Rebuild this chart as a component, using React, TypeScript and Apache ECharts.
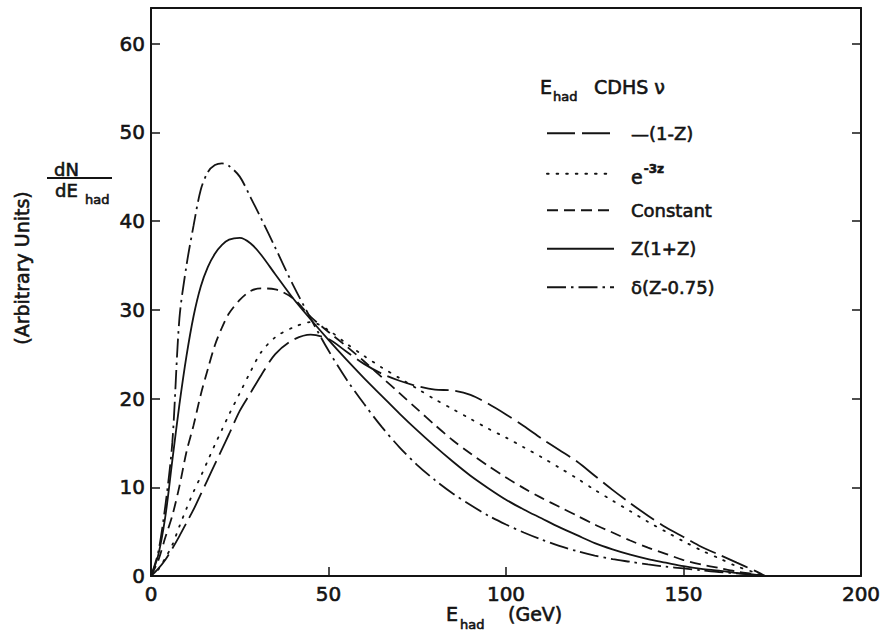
import React, { useEffect, useRef } from 'react';
import * as echarts from 'echarts';

// E_had (GeV) sample positions shared by all curves
const energies = [0, 2, 4, 6, 8, 10, 12, 14, 16, 18, 20, 22, 25, 28, 31, 35, 40, 45, 50, 55, 60, 65, 70, 75, 80, 85, 90, 95, 100, 105, 110, 115, 120, 125, 130, 135, 140, 145, 150, 155, 160, 165, 170, 173];

// dN/dE_had (arbitrary units) for each fragmentation assumption
const oneMinusZ = [0, 0.8, 1.8, 3.1, 4.5, 6.0, 7.5, 9.2, 10.9, 12.6, 14.3, 16.0, 18.6, 20.6, 22.6, 25.0, 26.6, 27.2, 26.7, 25.3, 23.9, 22.8, 22.0, 21.4, 21.0, 20.9, 20.4, 19.4, 18.2, 16.9, 15.5, 14.2, 12.9, 11.3, 9.7, 8.2, 6.8, 5.5, 4.4, 3.3, 2.4, 1.5, 0.6, 0];
const expMinus3z = [0, 0.7, 2.0, 3.5, 5.6, 7.6, 9.5, 11.2, 13.0, 14.8, 16.5, 18.2, 20.6, 23.0, 25.2, 26.9, 28.0, 28.6, 27.7, 26.2, 24.8, 23.5, 22.3, 21.1, 19.9, 18.8, 17.7, 16.6, 15.6, 14.5, 13.4, 12.2, 11.0, 9.7, 8.5, 7.3, 6.1, 5.0, 3.9, 2.9, 2.0, 1.1, 0.4, 0];
const constant = [0, 1.7, 4.3, 6.8, 10.1, 14.0, 17.0, 20.4, 23.3, 26.0, 28.0, 29.6, 31.1, 32.1, 32.4, 32.3, 31.3, 29.2, 27.5, 25.9, 24.2, 22.4, 20.6, 18.8, 17.0, 15.3, 13.8, 12.4, 11.1, 9.9, 8.8, 7.8, 6.8, 5.8, 4.9, 4.0, 3.2, 2.5, 1.8, 1.3, 0.9, 0.5, 0.2, 0];
const zOnePlusZ = [0, 2.3, 6.6, 13.0, 19.3, 24.8, 29.3, 32.6, 34.8, 36.3, 37.3, 37.9, 38.1, 37.5, 36.2, 34.0, 31.3, 28.9, 26.6, 24.4, 22.3, 20.3, 18.3, 16.4, 14.6, 12.9, 11.3, 9.9, 8.6, 7.5, 6.5, 5.5, 4.6, 3.7, 3.0, 2.4, 1.9, 1.5, 1.1, 0.8, 0.6, 0.35, 0.15, 0];
const deltaZ075 = [0, 2.6, 7.8, 15.0, 29.0, 35.0, 39.5, 43.5, 45.5, 46.3, 46.5, 46.2, 45.0, 42.7, 40.3, 37.0, 32.8, 29.0, 25.4, 22.2, 19.4, 16.8, 14.5, 12.5, 10.8, 9.3, 8.0, 6.8, 5.8, 4.9, 4.1, 3.4, 2.8, 2.3, 1.9, 1.6, 1.3, 1.05, 0.85, 0.65, 0.45, 0.3, 0.12, 0];

const seriesNames = ['—(1-Z)', 'e-3z', 'Constant', 'Z(1+Z)', 'δ(Z-0.75)'];
const xTicks = [0, 50, 100, 150, 200];
const yTicks = [0, 10, 20, 30, 40, 50, 60];

const FONT = '"DejaVu Sans", "Noto Sans", sans-serif';
const INK = '#141414';
const THICK = { textBorderColor: INK, textBorderWidth: 0.6 };

export default function App() {
  const ref = useRef<HTMLDivElement>(null);

  useEffect(() => {
    if (!ref.current) return;
    const chart = echarts.init(ref.current, null, { renderer: 'svg' });

    const values = [oneMinusZ, expMinus3z, constant, zOnePlusZ, deltaZ075];
    const dashes: (number[] | 'solid')[] = [[28, 7], [1.6, 8], [11, 6], 'solid', [19, 5, 2.5, 5]];
    const rowY = [130, 168.5, 207, 245.5, 284];

    const series = seriesNames.map((name, k) => ({
      name,
      type: 'line',
      xAxisIndex: 0,
      yAxisIndex: 0,
      smooth: 0.3,
      symbol: 'none',
      silent: true,
      data: energies.map((e, i) => [e, values[k][i]]),
      lineStyle: { color: INK, width: 1.8, type: dashes[k], cap: k === 1 ? 'round' : 'butt' },
      itemStyle: { color: INK },
    }));

    const legends = seriesNames.map((name, k) => ({
      data: [name],
      left: 541,
      top: rowY[k] - 11,
      itemWidth: 67,
      itemHeight: 22,
      selectedMode: false,
      itemStyle: { opacity: 0 },
      formatter: (n: string) => (n === 'e-3z' ? '{e|e}{s|-3z}' : n),
      textStyle: {
        color: INK,
        fontFamily: FONT,
        fontSize: 18,
        padding: [0, 0, 0, 12],
        ...THICK,
        rich: {
          e: { fontFamily: FONT, fontSize: 19, color: INK, padding: [6, 0, 0, 0], ...THICK },
          s: { fontFamily: FONT, fontSize: 12, color: INK, fontWeight: 'bold', padding: [0, 0, 10, 1] },
        },
      },
    }));

    const txt = (text: string, x: number, y: number, size: number, extra: any = {}) => ({
      type: 'text',
      x,
      y,
      silent: true,
      style: { text, fill: INK, font: `${size}px ${FONT}`, verticalAlign: 'top', stroke: INK, lineWidth: 0.6, ...extra },
    });

    chart.setOption({
      animation: false,
      backgroundColor: '#ffffff',
      grid: { left: 151, right: 27, top: 8, bottom: 64, containLabel: false },
      xAxis: [
        {
          type: 'value', min: 0, max: 200, interval: 50, position: 'bottom',
          axisLine: { show: true, onZero: false, lineStyle: { color: INK, width: 2 } },
          axisTick: { show: true, inside: true, length: 9, lineStyle: { color: INK, width: 1.5 } },
          axisLabel: { color: INK, fontFamily: FONT, fontSize: 20, margin: 8, ...THICK, formatter: (v: number) => (xTicks.includes(v) ? String(v) : '') },
          splitLine: { show: false },
        },
        {
          type: 'value', min: 0, max: 200, interval: 50, position: 'top',
          axisLine: { show: true, onZero: false, lineStyle: { color: INK, width: 2 } },
          axisTick: { show: false }, axisLabel: { show: false }, splitLine: { show: false },
        },
      ],
      yAxis: [
        {
          type: 'value', min: 0, max: 64, interval: 10, position: 'left',
          axisLine: { show: true, onZero: false, lineStyle: { color: INK, width: 2 } },
          axisTick: { show: true, inside: true, length: 9, lineStyle: { color: INK, width: 1.5 } },
          axisLabel: { color: INK, fontFamily: FONT, fontSize: 20, margin: 6, showMaxLabel: false, ...THICK, formatter: (v: number) => (yTicks.includes(v) ? String(v) : '') },
          splitLine: { show: false },
        },
        {
          type: 'value', min: 0, max: 64, interval: 10, position: 'right',
          axisLine: { show: true, onZero: false, lineStyle: { color: INK, width: 2 } },
          axisTick: { show: true, inside: true, length: 9, lineStyle: { color: INK, width: 1.5 } },
          axisLabel: { show: false }, splitLine: { show: false },
        },
      ],
      legend: legends,
      series,
      graphic: [
        // legend heading: E_had CDHS ν
        txt('E', 540, 77, 19),
        txt('had', 553, 90, 13),
        txt('CDHS ν', 594, 77, 19),
        // y-axis name: dN / dE_had and (Arbitrary Units)
        txt('dN', 54, 160, 18),
        { type: 'line', silent: true, shape: { x1: 47, y1: 178, x2: 112, y2: 178 }, style: { stroke: INK, lineWidth: 1.8 } },
        txt('dE', 55, 181, 18),
        txt('had', 85, 193, 13),
        {
          type: 'text', x: 22, y: 268, rotation: Math.PI / 2, silent: true,
          style: { text: '(Arbitrary Units)', fill: INK, font: `19px ${FONT}`, align: 'center', verticalAlign: 'middle', stroke: INK, lineWidth: 0.6 },
        },
        // x-axis name: E_had (GeV)
        txt('E', 446, 604, 19),
        txt('had', 460, 618, 13),
        txt('(GeV)', 508, 604, 19),
      ],
    });

    return () => chart.dispose();
  }, []);

  return <div ref={ref} style={{ position: 'absolute', left: 0, top: 0, width: 888, height: 640 }} />;
}
